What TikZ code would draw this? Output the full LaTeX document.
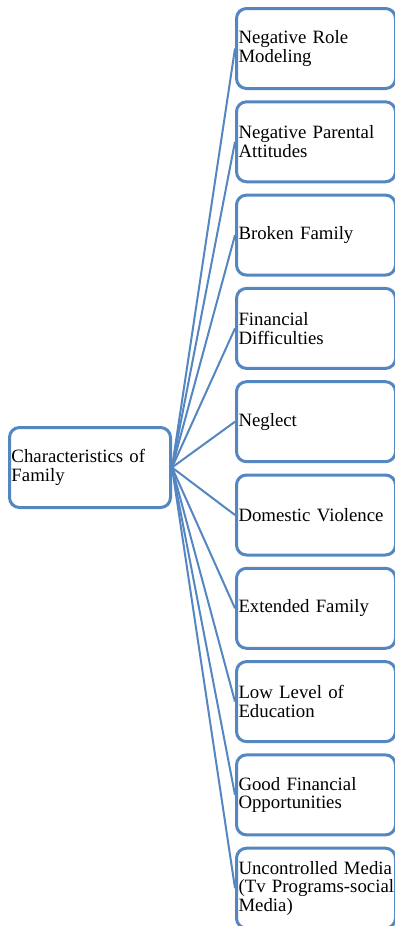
\documentclass[tikz,border=0pt]{standalone}
\usepackage{fontspec}
\setmainfont{Liberation Serif}
\definecolor{boxblue}{RGB}{84,134,194}
\begin{document}
\begin{tikzpicture}[x=1pt,y=-1pt,
  box/.style={draw=boxblue, line width=3pt, rounded corners=10pt,
    rectangle, minimum height=80pt, text width=155pt, inner xsep=2pt,
    align=left, font=\fontsize{18.8}{18.5}\selectfont, fill=white},
  hubbox/.style={box, text width=157pt},
  link/.style={draw=boxblue, line width=2pt}]
\useasboundingbox (0,0) rectangle (395,926);

% central box
\node[hubbox, anchor=north west] (hub) at (8,426) {Characteristics of\\Family};

% column of characteristics
\foreach \name/\txt [count=\i from 0] in {
  b0/{Negative Role\\Modeling},
  b1/{Negative Parental\\Attitudes},
  b2/{Broken Family},
  b3/{Financial\\Difficulties},
  b4/{Neglect},
  b5/{Domestic Violence},
  b6/{Extended Family},
  b7/{Low Level of\\Education},
  b8/{Good Financial\\Opportunities},
  b9/{Uncontrolled Media\\\mbox{(Tv Programs-social}\\Media)}}
{
  \node[box, anchor=north west] (\name) at (235,7+93.3*\i) {\txt};
}

% fan of connectors
\foreach \name in {b0,b1,b2,b3,b4,b5,b6,b7,b8,b9}
  \draw[link] (hub.east) -- (\name.west);
\end{tikzpicture}
\end{document}
